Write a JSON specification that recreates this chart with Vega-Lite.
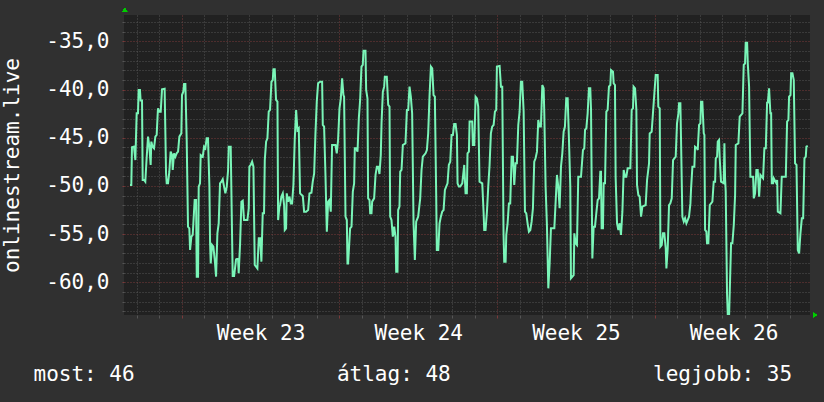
{
"$schema":"https://vega.github.io/schema/vega-lite/v6.json",
"width":686,"height":300,
"autosize":{"type":"none"},
"padding":{"left":124,"top":15,"right":14,"bottom":87},
"background":"#303030",
"config":{"view":{"fill":"#212121","stroke":null},"font":"DejaVu Sans Mono"},
"data":{"values":[
{"h":-55.1,"v":-49.90},{"h":-53.7,"v":-49.90},{"h":-53.0,"v":-45.99},{"h":-50.9,"v":-45.92},{"h":-49.4,"v":-47.31},{"h":-48.0,"v":-42.46},{"h":-46.6,"v":-42.46},{"h":-45.9,"v":-40.04},{"h":-44.5,"v":-40.04},{"h":-43.8,"v":-41.14},{"h":-42.3,"v":-41.14},{"h":-41.6,"v":-49.38},{"h":-40.2,"v":-49.38},{"h":-38.8,"v":-49.56},{"h":-37.4,"v":-47.13},{"h":-35.9,"v":-44.88},{"h":-34.5,"v":-45.92},{"h":-33.1,"v":-47.82},{"h":-32.4,"v":-45.40},{"h":-31.0,"v":-45.92},{"h":-29.5,"v":-46.09},{"h":-28.1,"v":-44.88},{"h":-26.7,"v":-44.71},{"h":-25.3,"v":-41.94},{"h":-23.9,"v":-42.29},{"h":-22.4,"v":-42.29},{"h":-21.0,"v":-39.97},{"h":-18.2,"v":-39.90},{"h":-16.7,"v":-48.69},{"h":-16.0,"v":-49.73},{"h":-14.6,"v":-49.73},{"h":-13.2,"v":-48.52},{"h":-11.8,"v":-46.44},{"h":-10.3,"v":-46.79},{"h":-9.6,"v":-48.34},{"h":-8.2,"v":-46.61},{"h":-6.8,"v":-46.96},{"h":-5.4,"v":-46.61},{"h":-3.9,"v":-46.44},{"h":-2.5,"v":-44.88},{"h":-0.4,"v":-44.54},{"h":0.3,"v":-40.56},{"h":1.7,"v":-40.21},{"h":2.5,"v":-39.41},{"h":3.9,"v":-39.41},{"h":5.3,"v":-45.23},{"h":6.7,"v":-54.23},{"h":8.1,"v":-54.40},{"h":8.9,"v":-56.65},{"h":10.3,"v":-55.27},{"h":11.7,"v":-55.09},{"h":13.1,"v":-52.67},{"h":13.8,"v":-51.46},{"h":15.3,"v":-51.46},{"h":16.0,"v":-59.42},{"h":17.4,"v":-59.42},{"h":18.1,"v":-50.07},{"h":19.5,"v":-49.73},{"h":20.2,"v":-46.79},{"h":22.4,"v":-46.96},{"h":23.8,"v":-45.92},{"h":25.2,"v":-46.09},{"h":26.6,"v":-45.06},{"h":28.0,"v":-45.06},{"h":29.5,"v":-50.07},{"h":30.2,"v":-55.96},{"h":30.9,"v":-58.04},{"h":32.3,"v":-56.13},{"h":33.7,"v":-56.30},{"h":35.2,"v":-57.69},{"h":36.6,"v":-59.42},{"h":38.0,"v":-54.92},{"h":39.4,"v":-53.88},{"h":40.8,"v":-49.73},{"h":42.3,"v":-49.56},{"h":43.7,"v":-49.31},{"h":45.1,"v":-50.07},{"h":46.5,"v":-50.77},{"h":48.0,"v":-50.07},{"h":49.4,"v":-48.34},{"h":50.1,"v":-45.92},{"h":52.2,"v":-45.92},{"h":54.3,"v":-59.35},{"h":55.8,"v":-59.35},
{"h":57.9,"v":-57.62},{"h":60.0,"v":-57.52},{"h":60.7,"v":-59.07},{"h":62.2,"v":-55.96},{"h":63.6,"v":-51.63},{"h":65.0,"v":-51.53},{"h":66.4,"v":-53.54},{"h":70.0,"v":-53.54},{"h":71.4,"v":-52.32},{"h":72.1,"v":-48.00},{"h":73.5,"v":-47.82},{"h":75.0,"v":-47.48},{"h":76.4,"v":-48.00},{"h":77.8,"v":-58.21},{"h":79.2,"v":-58.38},{"h":80.6,"v":-58.56},{"h":82.1,"v":-55.44},{"h":83.5,"v":-55.44},{"h":84.9,"v":-57.86},{"h":86.3,"v":-52.84},{"h":87.7,"v":-52.84},{"h":88.5,"v":-47.31},{"h":89.9,"v":-45.40},{"h":91.3,"v":-45.06},{"h":92.7,"v":-42.29},{"h":94.1,"v":-42.11},{"h":95.6,"v":-39.17},{"h":97.0,"v":-39.00},{"h":97.7,"v":-37.89},{"h":99.1,"v":-37.89},{"h":100.5,"v":-41.07},{"h":102.0,"v":-41.25},{"h":102.7,"v":-53.54},{"h":104.1,"v":-52.15},{"h":104.8,"v":-51.98},{"h":106.2,"v":-51.11},{"h":107.7,"v":-50.77},{"h":109.1,"v":-51.98},{"h":109.8,"v":-54.57},{"h":111.2,"v":-54.40},{"h":111.9,"v":-50.77},{"h":113.3,"v":-51.63},{"h":114.8,"v":-51.11},{"h":116.2,"v":-51.81},{"h":117.6,"v":-51.81},{"h":119.0,"v":-49.90},{"h":120.4,"v":-45.23},{"h":121.9,"v":-42.11},{"h":123.3,"v":-44.19},{"h":124.7,"v":-44.02},{"h":126.1,"v":-50.77},{"h":129.0,"v":-51.04},{"h":130.4,"v":-52.67},{"h":132.5,"v":-52.67},{"h":134.7,"v":-52.50},{"h":136.1,"v":-50.77},{"h":138.2,"v":-50.70},{"h":139.6,"v":-49.56},{"h":141.1,"v":-48.69},{"h":142.5,"v":-44.54},{"h":143.9,"v":-41.25},{"h":145.3,"v":-39.34},{"h":147.5,"v":-39.17},{"h":149.6,"v":-39.17},{"h":150.3,"v":-43.67},{"h":151.7,"v":-43.84},{"h":153.1,"v":-48.69},{"h":154.6,"v":-54.75},{"h":156.0,"v":-51.63},{"h":157.4,"v":-51.46},{"h":158.8,"v":-52.67},{"h":160.2,"v":-45.75},{"h":163.8,"v":-45.75},{"h":165.2,"v":-46.61},{"h":166.6,"v":-45.23},{"h":168.1,"v":-41.94},{"h":169.5,"v":-40.90},{"h":170.9,"v":-38.82},{"h":172.3,"v":-40.56},{"h":173.0,"v":-40.73},{"h":174.5,"v":-53.19},{"h":175.9,"v":-53.54},{"h":176.6,"v":-58.04},{"h":177.3,"v":-58.04},
{"h":179.4,"v":-54.40},{"h":180.9,"v":-54.23},{"h":182.3,"v":-50.59},{"h":183.7,"v":-49.73},{"h":184.4,"v":-46.09},{"h":185.8,"v":-46.09},{"h":187.3,"v":-46.44},{"h":188.7,"v":-42.98},{"h":190.1,"v":-41.07},{"h":191.5,"v":-37.61},{"h":192.9,"v":-37.44},{"h":193.7,"v":-35.95},{"h":195.8,"v":-35.95},{"h":196.5,"v":-40.04},{"h":197.9,"v":-40.90},{"h":198.6,"v":-51.29},{"h":200.1,"v":-51.46},{"h":200.8,"v":-52.84},{"h":202.2,"v":-52.84},{"h":202.9,"v":-51.63},{"h":205.0,"v":-51.29},{"h":206.5,"v":-48.86},{"h":207.9,"v":-48.00},{"h":209.3,"v":-48.00},{"h":210.7,"v":-48.76},{"h":212.1,"v":-46.79},{"h":212.9,"v":-43.50},{"h":214.3,"v":-40.21},{"h":215.7,"v":-39.69},{"h":216.4,"v":-38.65},{"h":218.5,"v":-38.65},{"h":220.0,"v":-41.59},{"h":221.4,"v":-41.77},{"h":222.1,"v":-53.19},{"h":223.5,"v":-53.54},{"h":224.9,"v":-55.27},{"h":226.4,"v":-54.23},{"h":227.8,"v":-55.27},{"h":228.5,"v":-58.90},{"h":229.9,"v":-58.90},{"h":230.6,"v":-52.50},{"h":232.0,"v":-52.15},{"h":232.8,"v":-48.52},{"h":234.2,"v":-48.34},{"h":235.6,"v":-45.75},{"h":238.4,"v":-45.58},{"h":239.9,"v":-42.11},{"h":241.3,"v":-42.11},{"h":242.7,"v":-39.69},{"h":244.1,"v":-40.73},{"h":245.5,"v":-42.46},{"h":247.0,"v":-53.88},{"h":248.4,"v":-57.69},{"h":249.8,"v":-53.71},{"h":251.9,"v":-53.19},{"h":254.1,"v":-51.29},{"h":255.5,"v":-48.34},{"h":256.9,"v":-46.96},{"h":259.8,"v":-46.61},{"h":261.2,"v":-46.27},{"h":262.6,"v":-44.54},{"h":264.0,"v":-40.73},{"h":265.5,"v":-37.61},{"h":266.9,"v":-37.79},{"h":268.3,"v":-40.56},{"h":269.7,"v":-40.73},{"h":271.1,"v":-50.77},{"h":271.8,"v":-56.65},{"h":273.3,"v":-56.65},{"h":274.7,"v":-53.88},{"h":276.1,"v":-53.19},{"h":277.5,"v":-52.67},{"h":279.0,"v":-52.50},{"h":280.4,"v":-50.42},{"h":281.8,"v":-50.07},{"h":283.2,"v":-49.73},{"h":284.6,"v":-47.82},{"h":286.1,"v":-47.48},{"h":287.5,"v":-44.71},{"h":288.9,"v":-44.71},{"h":290.3,"v":-43.57},{"h":291.8,"v":-43.57},{"h":293.2,"v":-44.71},{"h":293.9,"v":-49.73},{"h":295.3,"v":-50.07},{"h":296.7,"v":-50.07},{"h":298.9,"v":-49.73},
{"h":301.0,"v":-47.82},{"h":302.4,"v":-50.77},{"h":303.8,"v":-50.77},{"h":304.5,"v":-46.61},{"h":306.0,"v":-46.44},{"h":306.7,"v":-43.32},{"h":309.5,"v":-43.32},{"h":310.2,"v":-45.75},{"h":311.7,"v":-45.75},{"h":313.1,"v":-40.73},{"h":314.5,"v":-40.90},{"h":315.9,"v":-41.77},{"h":317.3,"v":-49.56},{"h":320.2,"v":-49.73},{"h":321.6,"v":-52.67},{"h":322.3,"v":-54.57},{"h":323.7,"v":-54.57},{"h":325.2,"v":-52.67},{"h":326.6,"v":-50.07},{"h":328.0,"v":-47.82},{"h":329.4,"v":-44.54},{"h":330.8,"v":-43.84},{"h":332.3,"v":-43.67},{"h":333.7,"v":-42.29},{"h":335.1,"v":-42.11},{"h":335.8,"v":-37.61},{"h":338.7,"v":-37.54},{"h":340.1,"v":-39.69},{"h":341.5,"v":-39.69},{"h":342.9,"v":-55.09},{"h":343.6,"v":-57.86},{"h":345.1,"v":-57.86},{"h":345.8,"v":-55.09},{"h":347.2,"v":-53.88},{"h":348.6,"v":-51.81},{"h":350.0,"v":-51.81},{"h":351.5,"v":-46.96},{"h":352.9,"v":-46.96},{"h":353.6,"v":-48.34},{"h":354.3,"v":-49.90},{"h":355.7,"v":-47.65},{"h":357.1,"v":-47.65},{"h":358.6,"v":-43.67},{"h":360.0,"v":-42.29},{"h":361.4,"v":-39.17},{"h":362.8,"v":-39.17},{"h":364.3,"v":-42.29},{"h":365.7,"v":-52.67},{"h":367.1,"v":-52.84},{"h":368.5,"v":-53.88},{"h":369.9,"v":-54.75},{"h":371.4,"v":-54.57},{"h":372.8,"v":-53.71},{"h":374.2,"v":-52.32},{"h":375.6,"v":-47.48},{"h":377.0,"v":-47.13},{"h":378.5,"v":-46.44},{"h":379.9,"v":-43.15},{"h":381.3,"v":-43.84},{"h":382.7,"v":-43.84},{"h":384.2,"v":-39.52},{"h":385.6,"v":-39.86},{"h":386.3,"v":-42.46},{"h":387.7,"v":-50.07},{"h":389.1,"v":-54.06},{"h":390.6,"v":-60.63},{"h":392.0,"v":-58.04},{"h":393.4,"v":-54.40},{"h":397.0,"v":-54.40},{"h":398.4,"v":-51.63},{"h":399.8,"v":-48.86},{"h":401.2,"v":-50.07},{"h":402.6,"v":-52.32},{"h":404.1,"v":-48.00},{"h":405.5,"v":-46.61},{"h":406.9,"v":-44.36},{"h":408.3,"v":-43.84},{"h":409.7,"v":-40.90},{"h":411.2,"v":-40.90},{"h":412.6,"v":-45.23},{"h":414.0,"v":-50.07},{"h":414.7,"v":-59.59},{"h":417.6,"v":-59.25},{"h":418.3,"v":-54.92},{"h":419.7,"v":-55.96},{"h":421.1,"v":-56.13},
{"h":422.5,"v":-49.04},{"h":425.4,"v":-49.04},{"h":427.5,"v":-46.27},{"h":428.9,"v":-46.09},{"h":429.7,"v":-44.19},{"h":431.1,"v":-44.02},{"h":432.5,"v":-42.46},{"h":433.9,"v":-39.86},{"h":435.3,"v":-39.86},{"h":436.1,"v":-42.11},{"h":437.5,"v":-57.52},{"h":438.9,"v":-54.23},{"h":440.3,"v":-54.23},{"h":441.7,"v":-52.84},{"h":443.2,"v":-51.46},{"h":444.6,"v":-51.29},{"h":446.0,"v":-48.52},{"h":446.7,"v":-48.52},{"h":447.4,"v":-54.40},{"h":448.8,"v":-54.40},{"h":449.6,"v":-49.73},{"h":451.0,"v":-49.73},{"h":452.4,"v":-42.29},{"h":453.8,"v":-42.11},{"h":455.2,"v":-39.69},{"h":456.7,"v":-39.52},{"h":457.4,"v":-37.96},{"h":459.5,"v":-38.13},{"h":460.2,"v":-39.34},{"h":461.6,"v":-39.52},{"h":462.3,"v":-49.04},{"h":463.8,"v":-53.88},{"h":465.2,"v":-54.57},{"h":466.6,"v":-53.88},{"h":468.0,"v":-55.09},{"h":469.5,"v":-52.67},{"h":470.9,"v":-48.34},{"h":472.3,"v":-49.04},{"h":473.7,"v":-49.04},{"h":475.1,"v":-48.17},{"h":478.0,"v":-48.17},{"h":479.4,"v":-42.11},{"h":480.8,"v":-41.94},{"h":481.5,"v":-39.69},{"h":483.0,"v":-39.86},{"h":484.4,"v":-42.11},{"h":485.1,"v":-49.90},{"h":486.5,"v":-50.94},{"h":487.9,"v":-51.11},{"h":489.4,"v":-53.19},{"h":490.8,"v":-52.15},{"h":494.3,"v":-51.98},{"h":495.8,"v":-49.38},{"h":497.9,"v":-47.65},{"h":498.6,"v":-44.54},{"h":500.7,"v":-44.37},{"h":502.2,"v":-42.29},{"h":503.6,"v":-40.38},{"h":505.0,"v":-38.48},{"h":507.1,"v":-38.48},{"h":507.8,"v":-41.77},{"h":509.3,"v":-41.94},{"h":510.0,"v":-56.30},{"h":511.4,"v":-56.13},{"h":512.8,"v":-54.92},{"h":514.2,"v":-54.92},{"h":515.7,"v":-56.48},{"h":516.4,"v":-58.56},{"h":517.8,"v":-56.48},{"h":519.2,"v":-51.98},{"h":520.6,"v":-51.81},{"h":522.1,"v":-51.29},{"h":523.5,"v":-47.31},{"h":526.3,"v":-46.96},{"h":527.7,"v":-43.50},{"h":529.2,"v":-42.46},{"h":529.9,"v":-41.42},{"h":531.3,"v":-41.42},{"h":532.0,"v":-45.23},{"h":533.4,"v":-53.19},{"h":534.9,"v":-53.71},{"h":536.3,"v":-53.36},{"h":537.7,"v":-53.88},{"h":539.1,"v":-53.54},{"h":540.5,"v":-53.19},{"h":542.0,"v":-51.81},{"h":542.7,"v":-50.25},
{"h":544.1,"v":-48.00},{"h":546.2,"v":-48.00},{"h":546.9,"v":-45.92},{"h":549.1,"v":-46.09},{"h":549.8,"v":-46.27},{"h":551.2,"v":-43.67},{"h":552.6,"v":-43.50},{"h":553.3,"v":-41.25},{"h":554.7,"v":-41.25},{"h":556.2,"v":-44.54},{"h":556.9,"v":-44.71},{"h":557.6,"v":-54.57},{"h":559.0,"v":-54.75},{"h":559.7,"v":-55.96},{"h":561.1,"v":-55.96},{"h":562.6,"v":-51.98},{"h":565.4,"v":-51.63},{"h":566.8,"v":-49.56},{"h":568.3,"v":-49.56},{"h":569.0,"v":-47.13},{"h":570.4,"v":-46.96},{"h":571.1,"v":-45.40},{"h":572.5,"v":-45.23},{"h":573.2,"v":-47.13},{"h":574.6,"v":-49.56},{"h":577.5,"v":-49.73},{"h":578.2,"v":-45.58},{"h":578.9,"v":-49.21},{"h":579.6,"v":-50.59},{"h":581.0,"v":-61.15},{"h":581.8,"v":-63.40},{"h":583.2,"v":-63.40},{"h":583.9,"v":-60.98},{"h":585.3,"v":-55.96},{"h":586.7,"v":-55.96},{"h":588.2,"v":-54.06},{"h":589.6,"v":-50.94},{"h":590.3,"v":-45.75},{"h":593.1,"v":-45.58},{"h":594.5,"v":-42.81},{"h":597.4,"v":-42.46},{"h":598.8,"v":-37.44},{"h":600.2,"v":-37.27},{"h":600.9,"v":-35.12},{"h":602.4,"v":-35.12},{"h":603.1,"v":-37.27},{"h":604.5,"v":-39.69},{"h":605.9,"v":-49.04},{"h":608.8,"v":-49.04},{"h":609.5,"v":-51.29},{"h":610.9,"v":-50.77},{"h":612.3,"v":-48.34},{"h":613.7,"v":-48.34},{"h":615.2,"v":-51.11},{"h":616.6,"v":-48.86},{"h":619.4,"v":-49.21},{"h":620.8,"v":-46.09},{"h":622.3,"v":-46.09},{"h":623.7,"v":-41.25},{"h":624.4,"v":-41.42},{"h":625.8,"v":-39.86},{"h":627.2,"v":-42.46},{"h":628.0,"v":-42.46},{"h":628.7,"v":-49.73},{"h":630.1,"v":-49.73},{"h":630.8,"v":-49.21},{"h":633.6,"v":-49.73},{"h":634.4,"v":-49.38},{"h":635.1,"v":-52.67},{"h":637.9,"v":-52.84},{"h":639.3,"v":-49.04},{"h":643.6,"v":-49.04},{"h":645.0,"v":-43.32},{"h":646.4,"v":-43.15},{"h":647.1,"v":-40.73},{"h":648.6,"v":-40.56},{"h":649.3,"v":-38.31},{"h":650.7,"v":-38.31},{"h":652.1,"v":-39.00},{"h":653.5,"v":-47.65},{"h":655.0,"v":-47.82},{"h":656.4,"v":-56.65},{"h":657.8,"v":-57.00},{"h":659.2,"v":-54.92},{"h":660.7,"v":-53.36},{"h":662.1,"v":-53.36},{"h":663.5,"v":-47.13},{"h":664.9,"v":-46.96},{"h":665.6,"v":-45.92},{"h":667.0,"v":-45.85}
]},
"layer":[
{"mark":{"type":"line","color":"#7af5b8","strokeWidth":2,"clip":true,"strokeJoin":"miter"},
 "encoding":{
  "x":{"field":"h","type":"quantitative","scale":{"domain":[-61.5,669.4],"nice":false,"zero":false},
   "axis":{
    "values":[-60,-48,-36,-24,-12,0,12,24,36,48,60,72,84,96,108,120,132,144,156,168,180,192,204,216,228,240,252,264,276,288,300,312,324,336,348,360,372,384,396,408,420,432,444,456,468,480,492,504,516,528,540,552,564,576,588,600,612,624,636,648,660],
    "tickCount":1000,
    "grid":true,
    "gridColor":{"condition":{"test":"datum.value % 168 === 0","value":"#7a3a3a"},"value":"#555555"},
    "gridOpacity":{"condition":{"test":"datum.value % 24 !== 0","value":0},"value":1},
    "gridDash":[1,2],
    "ticks":true,"tickSize":3,
    "tickColor":{"condition":{"test":"datum.value % 168 === 0","value":"#7a3a3a"},"value":"#555555"},
    "tickOpacity":{"condition":{"test":"datum.value % 24 !== 0","value":0},"value":1},
    "domain":false,
    "labelExpr":"(datum.value - 84) % 168 === 0 ? 'Week ' + (23 + (datum.value - 84) / 168) : ''",
    "labelColor":"#ffffff","labelFontSize":21,"labelFont":"DejaVu Sans Mono",
    "labelBaseline":"alphabetic","labelPadding":21,"labelOverlap":false,"labelBound":false,"labelFlush":false,
    "title":"most: 46\u00a0\u00a0\u00a0\u00a0\u00a0\u00a0\u00a0\u00a0\u00a0\u00a0\u00a0\u00a0\u00a0\u00a0\u00a0\u00a0átlag: 48\u00a0\u00a0\u00a0\u00a0\u00a0\u00a0\u00a0\u00a0\u00a0\u00a0\u00a0\u00a0\u00a0\u00a0\u00a0\u00a0legjobb: 35",
    "titleX":-91,"titleY":65,"titleAlign":"left","titleBaseline":"alphabetic",
    "titleColor":"#ffffff","titleFontSize":21,"titleFontWeight":"normal","titleFont":"DejaVu Sans Mono"
   }},
  "y":{"field":"v","type":"quantitative","scale":{"domain":[-63.4,-32.25],"nice":false,"zero":false},
   "axis":{
    "values":[-63,-62,-61,-60,-59,-58,-57,-56,-55,-54,-53,-52,-51,-50,-49,-48,-47,-46,-45,-44,-43,-42,-41,-40,-39,-38,-37,-36,-35,-34,-33],
    "tickCount":1000,
    "grid":true,
    "gridColor":{"condition":{"test":"datum.value % 5 === 0","value":"#7a3a3a"},"value":"#555555"},
    "gridDash":[1,2],
    "ticks":true,"tickSize":2,
    "tickColor":{"condition":{"test":"datum.value % 5 === 0","value":"#7a3a3a"},"value":"#555555"},
    "domain":false,
    "labelExpr":"datum.value % 5 === 0 ? '-' + abs(datum.value) + ',0' : ''",
    "labelColor":"#ffffff","labelFontSize":21,"labelFont":"DejaVu Sans Mono",
    "labelBaseline":"middle","labelPadding":13,"labelOverlap":false,"labelBound":false,"labelFlush":false,
    "title":"onlinestream.live",
    "titleX":-112,"titleY":150,"titleAngle":-90,"titleAlign":"center","titleBaseline":"middle",
    "titleColor":"#ffffff","titleFontSize":21,"titleFontWeight":"normal","titleFont":"DejaVu Sans Mono"
   }}
 }},
{"mark":{"type":"point","shape":"triangle-up","filled":true,"color":"#00cc00","size":22,"opacity":1,"yOffset":-5,"clip":false},
 "encoding":{"x":{"datum":-60.7,"type":"quantitative"},"y":{"datum":-32.25,"type":"quantitative"}}},
{"mark":{"type":"point","shape":"triangle-right","filled":true,"color":"#00cc00","size":22,"opacity":1,"xOffset":5,"clip":false},
 "encoding":{"x":{"datum":669.4,"type":"quantitative"},"y":{"datum":-63.4,"type":"quantitative"}}}
]
}
